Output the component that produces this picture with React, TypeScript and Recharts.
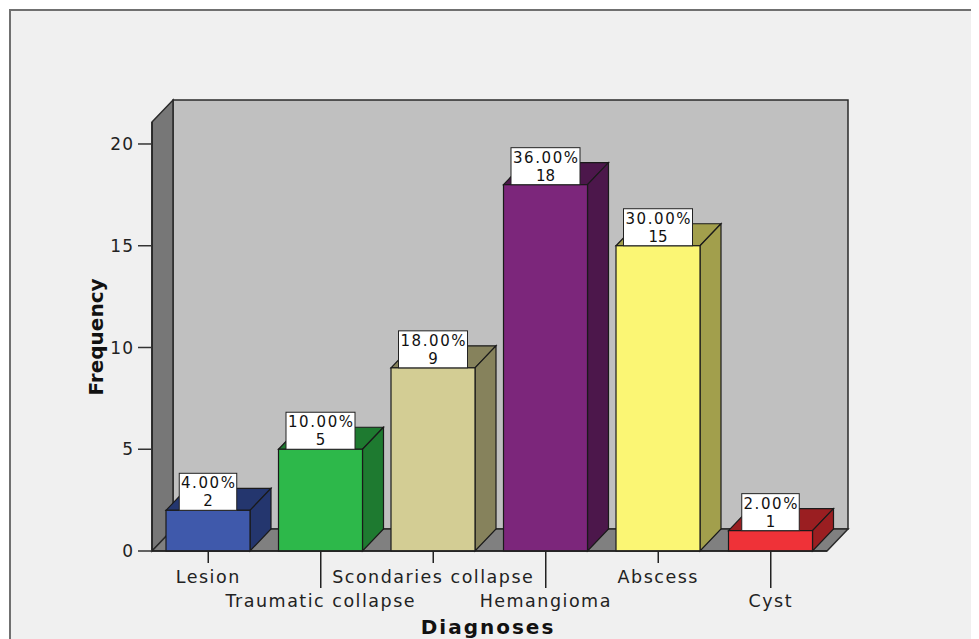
import React from 'react';
import { BarChart, Bar, XAxis, YAxis, ReferenceArea, Label, Cell } from 'recharts';

// values
const categories = ['Lesion', 'Traumatic collapse', 'Scondaries collapse', 'Hemangioma', 'Abscess', 'Cyst'];
const counts = [2, 5, 9, 18, 15, 1];
const percents = ['4.00%', '10.00%', '18.00%', '36.00%', '30.00%', '2.00%'];
const yTicks = [0, 5, 10, 15, 20];

// front / dark (top + side) colours per bar
const FRONT = ['#3f59ab', '#2db84a', '#d3cd94', '#7c267b', '#fbf674', '#ef3238'];
const DARK = ['#24366e', '#1e7a30', '#86825c', '#4c174b', '#a29f4c', '#9a1e21'];

const FONT = '"DejaVu Sans", Verdana, sans-serif';
const DX = 21; // depth offset
const DY = 22;

const data = categories.map((name, i) => ({ name, value: counts[i], pct: percents[i], idx: i }));

function Walls(props: any) {
    const { x, y, width, height } = props;
    const b = y + height;
    return (
        <g stroke="#2a2a2a" strokeWidth={1.5}>
            <rect x={x + DX} y={y - DY} width={width} height={height} fill="#c0c0c0" />
            <polygon points={`${x},${y} ${x + DX},${y - DY} ${x + DX},${b - DY} ${x},${b}`} fill="#777777" />
            <polygon points={`${x},${b} ${x + DX},${b - DY} ${x + width + DX},${b - DY} ${x + width},${b}`} fill="#808080" />
        </g>
    );
}

function Bar3D(props: any) {
    const { x, y, width, height, payload } = props;
    const i = payload.idx;
    const front = FRONT[i];
    const dark = DARK[i];
    const boxW = payload.pct.length * 11.5;
    const cx = x + width / 2;
    return (
        <g>
            <polygon
                points={`${x},${y} ${x + DX},${y - DY} ${x + width + DX},${y - DY} ${x + width},${y}`}
                fill={dark} stroke="#1a1a1a" strokeWidth={1.2}
            />
            <polygon
                points={`${x + width},${y} ${x + width + DX},${y - DY} ${x + width + DX},${y + height - DY} ${x + width},${y + height}`}
                fill={dark} stroke="#1a1a1a" strokeWidth={1.2}
            />
            <rect x={x} y={y} width={width} height={height} fill={front} stroke="#1a1a1a" strokeWidth={1.2} />
            <rect x={cx - boxW / 2} y={y - 37} width={boxW} height={37} fill="#ffffff" stroke="#222" strokeWidth={1} />
            <text x={cx + 0.8} y={y - 22} textAnchor="middle" fontFamily={FONT} fontSize={15} letterSpacing={1.6} fill="#111">
                {payload.pct}
            </text>
            <text x={cx} y={y - 4} textAnchor="middle" fontFamily={FONT} fontSize={15} fill="#111">
                {payload.value}
            </text>
        </g>
    );
}

function CategoryTick(props: any) {
    const { x, y, payload, index } = props;
    const low = index % 2 === 1;
    return (
        <g>
            <line x1={x} y1={y} x2={x} y2={y + (low ? 37 : 12)} stroke="#222" strokeWidth={1.5} />
            <text
                x={x} y={y + (low ? 56 : 32)} textAnchor="middle"
                fontFamily={FONT} fontSize={17.5} letterSpacing={1.5} fill="#222"
            >
                {payload.value}
            </text>
        </g>
    );
}

export default function App() {
    return (
        <div style={{ position: 'relative', width: 971, height: 631, overflow: 'hidden', background: '#fff' }}>
            <div
                style={{
                    position: 'absolute', left: 1, top: 1, width: 1000, height: 700,
                    border: '2px solid #707070', background: '#f0f0f0',
                }}
            />
            <div style={{ position: 'absolute', left: 0, top: 0 }}>
                <BarChart
                    width={971}
                    height={631}
                    data={data}
                    margin={{ top: 114, right: 152, bottom: 28, left: 84 }}
                    barSize={84}
                >
                    <XAxis
                        dataKey="name"
                        height={60}
                        interval={0}
                        tickSize={0}
                        tickMargin={0}
                        axisLine={{ stroke: '#222', strokeWidth: 1.5 }}
                        tick={<CategoryTick />}
                    >
                        <Label
                            content={() => (
                                <text x={480} y={626} textAnchor="middle" fontFamily={FONT} fontWeight="bold"
                                    fontSize={20} letterSpacing={2} fill="#111">
                                    Diagnoses
                                </text>
                            )}
                        />
                    </XAxis>
                    <YAxis
                        width={60}
                        domain={[0, 21.08]}
                        ticks={yTicks}
                        interval={0}
                        tickSize={14}
                        tickMargin={4}
                        axisLine={{ stroke: '#222', strokeWidth: 1.5 }}
                        tickLine={{ stroke: '#333', strokeWidth: 1.5 }}
                        tick={{ fontFamily: FONT, fontSize: 17, fill: '#222', letterSpacing: 1 }}
                    >
                        <Label
                            content={() => (
                                <text x={88} y={329} textAnchor="middle" dominantBaseline="central"
                                    transform="rotate(-90 88 329)" fontFamily={FONT} fontWeight="bold"
                                    fontSize={20} fill="#111">
                                    Frequency
                                </text>
                            )}
                        />
                    </YAxis>
                    <ReferenceArea y1={0} y2={21.08} ifOverflow="visible" shape={<Walls />} />
                    <Bar dataKey="value" isAnimationActive={false} shape={<Bar3D />}>
                        {data.map((d, i) => (
                            <Cell key={`c-${i}`} fill={FRONT[i]} />
                        ))}
                    </Bar>
                </BarChart>
            </div>
        </div>
    );
}
